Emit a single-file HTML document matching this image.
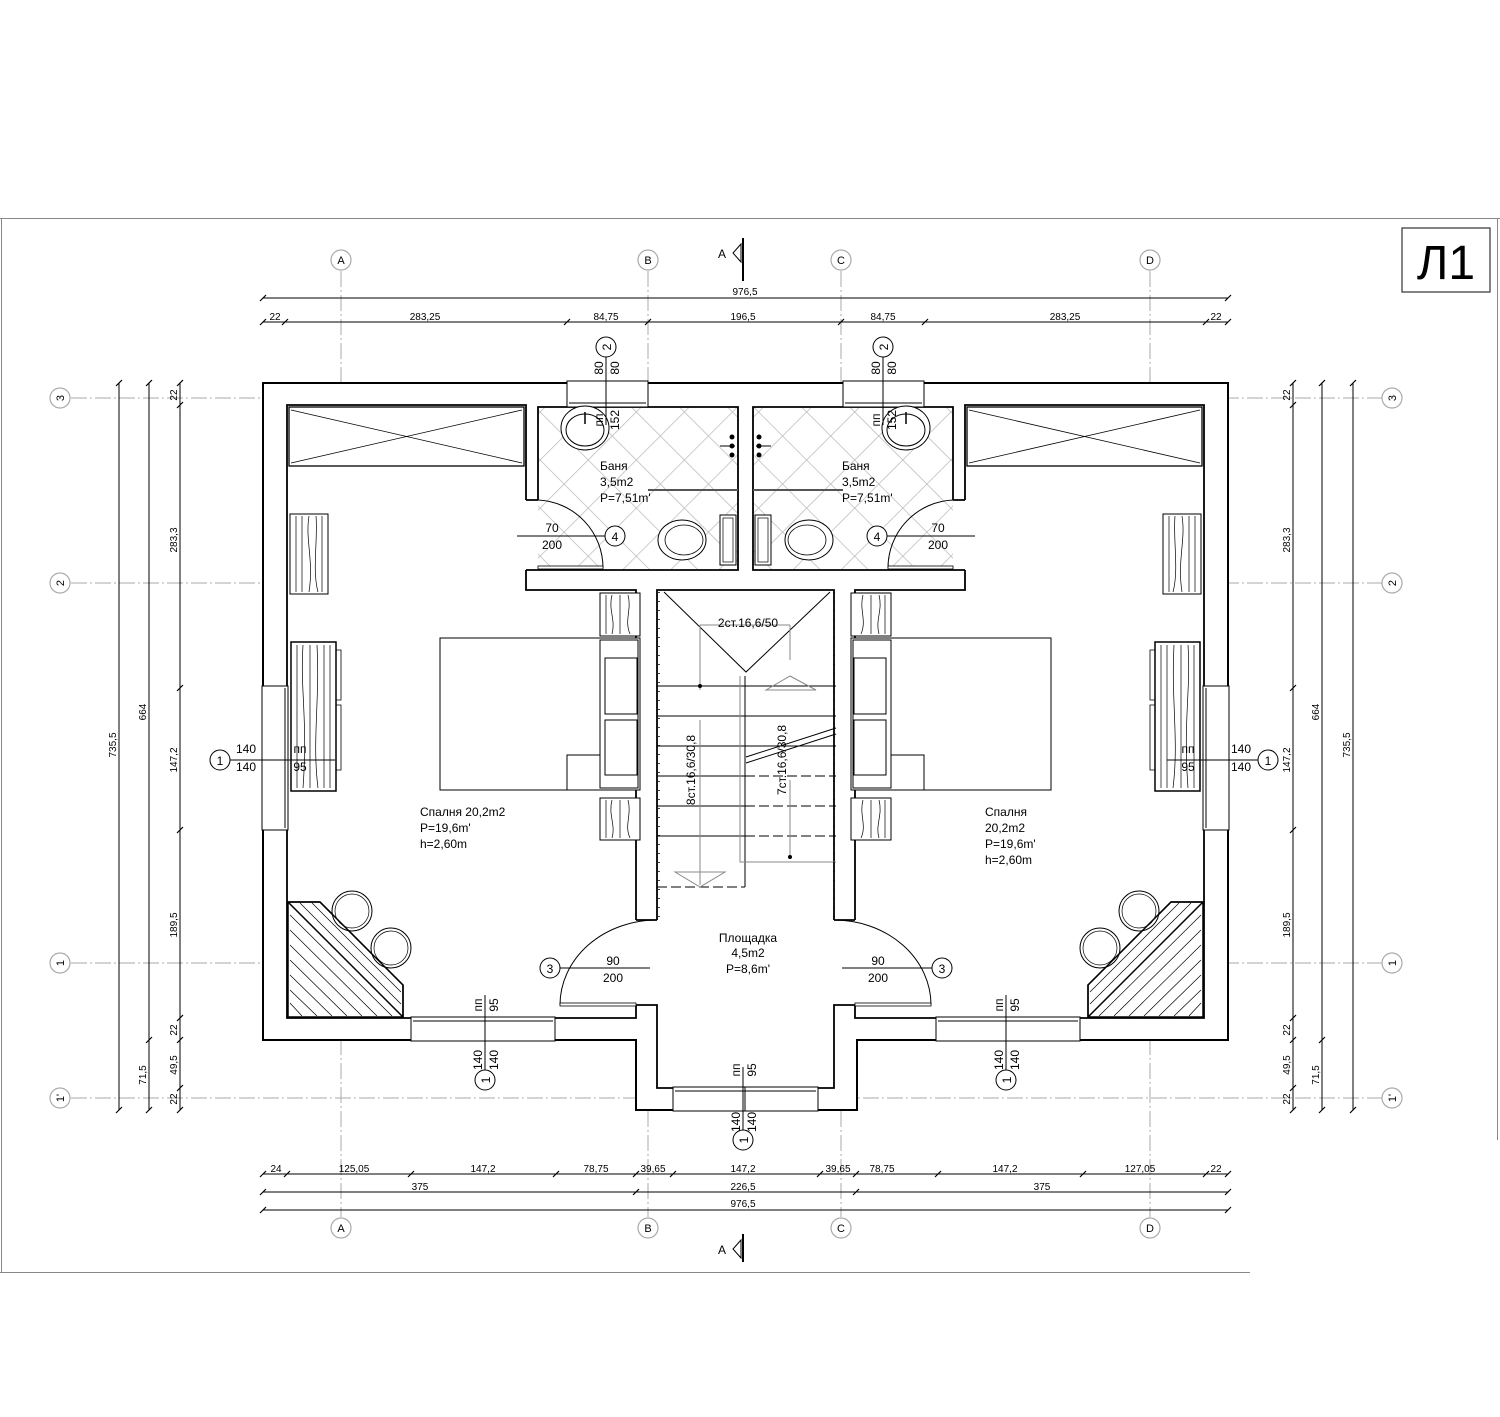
<!DOCTYPE html>
<html><head><meta charset="utf-8"><style>
html,body{margin:0;padding:0;background:#fff}
svg{display:block}
text{font-family:"Liberation Sans",sans-serif;fill:#000}
.d{font-size:10px}
.g{fill:#999;font-size:11px}
.t{font-size:12px}
</style></head><body>
<svg width="1500" height="1417" viewBox="0 0 1500 1417" xmlns="http://www.w3.org/2000/svg">
<defs>
<pattern id="tile" width="34" height="34" patternUnits="userSpaceOnUse" patternTransform="rotate(45 538 405)">
<rect width="34" height="34" fill="#fff"/>
<path d="M0 0H34M0 0V34" stroke="#bbb" stroke-width="1.5"/>
</pattern>
<g id="half">
 <rect x="538" y="407" width="200" height="163" fill="url(#tile)"/>
 <path d="M526,500 V405 H287 V1018 H636 V1005 H657 V1088 H745.5" fill="none" stroke="#000" stroke-width="1.8"/>
 <path d="M636,920 V590 H526 V570 M538,500 V407 H738 V570 H538 M526,500 H538 M526,570 H538 M657,920 V590 H745.5 M636,920 H657" fill="none" stroke="#000" stroke-width="1.8"/>
 <rect x="262" y="686" width="26" height="144" fill="#fff" stroke="#000"/>
 <line x1="285" y1="688" x2="285" y2="828" stroke="#000"/>
 <rect x="567" y="381" width="81" height="26" fill="#fff" stroke="#000"/>
 <line x1="569" y1="403" x2="646" y2="403" stroke="#000"/>
 <rect x="411" y="1017" width="144" height="24" fill="#fff" stroke="#000"/>
 <line x1="413" y1="1021" x2="553" y2="1021" stroke="#000"/>
 <rect x="673" y="1087" width="73" height="24" fill="#fff" stroke="#000"/>
 <line x1="675" y1="1091" x2="746" y2="1091" stroke="#000"/>
 <rect x="289" y="407" width="235" height="59" fill="none" stroke="#000" stroke-width="1.3"/>
 <path d="M291,410 L522,463 M291,463 L522,410" stroke="#000" stroke-width="0.8"/>
 <rect x="290" y="514" width="38" height="80" fill="#fff" stroke="#000"/>
 <path d="M296,516 V592 M302,516 V592 M309,516 C305,540 314,560 309,592 M316,516 C318,540 312,570 318,592 M322,516 V592" stroke="#000" stroke-width="0.7" fill="none"/>
 <rect x="291" y="642" width="45" height="149" fill="#fff" stroke="#000" stroke-width="1.5"/>
 <path d="M297,645 V788 M303,645 C300,690 308,720 303,788 M310,645 V788 M317,645 C320,700 312,740 318,788 M324,645 V788 M330,645 V788" stroke="#000" stroke-width="0.7" fill="none"/>
 <path d="M336,650 H341 V700 H336 M336,705 H341 V770 H336" fill="none" stroke="#000" stroke-width="0.8"/>
 <rect x="440" y="638" width="200" height="152" fill="#fff" stroke="#000"/>
 <rect x="600" y="640" width="38" height="148" fill="none" stroke="#000"/>
 <rect x="605" y="658" width="32" height="56" fill="none" stroke="#000"/>
 <rect x="605" y="720" width="32" height="55" fill="none" stroke="#000"/>
 <path d="M600,755 L567,755 L567,790" fill="none" stroke="#000"/>
 <rect x="600" y="593" width="40" height="43" fill="#fff" stroke="#000"/>
 <path d="M606,595 V634 M612,595 C608,610 616,620 612,634 M620,595 V634 M628,595 C632,610 624,620 630,634" stroke="#000" stroke-width="0.7" fill="none"/>
 <rect x="600" y="798" width="40" height="42" fill="#fff" stroke="#000"/>
 <path d="M606,800 V838 M612,800 C608,815 616,825 612,838 M620,800 V838 M628,800 C632,815 624,825 630,838" stroke="#000" stroke-width="0.7" fill="none"/>
 <polygon points="288,902 320,902 403,985 403,1017 288,1017" fill="#fff" stroke="#000" stroke-width="1.5"/>
 <g stroke="#000" stroke-width="0.7">
  <path d="M290,915 L392,1016 M290,930 L377,1016 M290,945 L362,1016 M290,960 L347,1016 M290,975 L332,1016 M290,990 L317,1016 M300,903 L401,1004 M312,903 L401,992 M290,1003 L302,1016"/>
 </g>
 <circle cx="352" cy="911" r="20" fill="#fff" stroke="#000"/>
 <circle cx="352" cy="911" r="17" fill="none" stroke="#000" stroke-width="0.7"/>
 <circle cx="391" cy="948" r="20" fill="#fff" stroke="#000"/>
 <circle cx="391" cy="948" r="17" fill="none" stroke="#000" stroke-width="0.7"/>
 <polygon points="288,902 320,902 403,985 403,1017" fill="none" stroke="#000" stroke-width="1.5"/>
 <ellipse cx="585" cy="428" rx="24" ry="22" fill="#fff" stroke="#000"/>
 <ellipse cx="585" cy="430" rx="19" ry="16" fill="none" stroke="#000"/>
 <line x1="585" y1="412" x2="585" y2="424" stroke="#000" stroke-width="1.5"/>
 <line x1="648" y1="490" x2="738" y2="490" stroke="#555" stroke-width="2"/>
 <circle cx="732" cy="437" r="2.5"/><circle cx="732" cy="446" r="2.5"/><circle cx="732" cy="455" r="2.5"/>
 <line x1="720" y1="446" x2="735" y2="446" stroke="#000"/>
 <ellipse cx="682" cy="540" rx="24" ry="20" fill="#fff" stroke="#000"/>
 <ellipse cx="684" cy="540" rx="19" ry="15" fill="none" stroke="#000" stroke-width="0.8"/>
 <rect x="720" y="515" width="16" height="50" fill="#fff" stroke="#000"/>
 <rect x="723" y="518" width="10" height="44" fill="none" stroke="#000" stroke-width="0.7"/>
 <path d="M603,568 A68,68 0 0 0 538,500" fill="none" stroke="#000"/>
 <rect x="538" y="566" width="65" height="3" fill="#fff" stroke="#000" stroke-width="0.8"/>
 <path d="M560,1005 A97,85 0 0 1 657,920" fill="none" stroke="#000"/>
 <rect x="560" y="1003" width="76" height="3" fill="#fff" stroke="#000" stroke-width="0.8"/>
</g>
</defs>

<path d="M0,218.5 H1500 M1.5,218 V1272 M0,1272.5 H1250 M1497.5,218 V1140" stroke="#888" stroke-width="1" fill="none"/>
<rect x="1402" y="228" width="88" height="64" fill="none" stroke="#333" stroke-width="1.2"/>
<text x="1446" y="279" font-size="48" text-anchor="middle">Л1</text>

<g stroke="#aaa" stroke-width="1" stroke-dasharray="16,3,2,3" fill="none">
<path d="M341,271 V1217 M648,271 V1217 M841,271 V1217 M1150,271 V1217"/>
<path d="M71,398 H1382 M71,583 H1382 M71,963 H1382 M71,1098 H1382"/>
</g>
<g fill="#fff" stroke="#aaa" stroke-width="1.2">
<circle cx="341" cy="260" r="10"/><circle cx="648" cy="260" r="10"/><circle cx="841" cy="260" r="10"/><circle cx="1150" cy="260" r="10"/>
<circle cx="341" cy="1228" r="10"/><circle cx="648" cy="1228" r="10"/><circle cx="841" cy="1228" r="10"/><circle cx="1150" cy="1228" r="10"/>
<circle cx="60" cy="398" r="10"/><circle cx="60" cy="583" r="10"/><circle cx="60" cy="963" r="10"/><circle cx="60" cy="1098" r="10"/>
<circle cx="1392" cy="398" r="10"/><circle cx="1392" cy="583" r="10"/><circle cx="1392" cy="963" r="10"/><circle cx="1392" cy="1098" r="10"/>
</g>
<g class="g" text-anchor="middle">
<text x="341" y="264">A</text><text x="648" y="264">B</text><text x="841" y="264">C</text><text x="1150" y="264">D</text>
<text x="341" y="1232">A</text><text x="648" y="1232">B</text><text x="841" y="1232">C</text><text x="1150" y="1232">D</text>
<text x="60" y="402" transform="rotate(-90 60 398)">3</text><text x="60" y="587" transform="rotate(-90 60 583)">2</text><text x="60" y="967" transform="rotate(-90 60 963)">1</text><text x="60" y="1102" transform="rotate(-90 60 1098)">1'</text>
<text x="1392" y="402" transform="rotate(-90 1392 398)">3</text><text x="1392" y="587" transform="rotate(-90 1392 583)">2</text><text x="1392" y="967" transform="rotate(-90 1392 963)">1</text><text x="1392" y="1102" transform="rotate(-90 1392 1098)">1'</text>
</g>

<g>
<text x="718" y="258" class="t">A</text>
<path d="M743,238 V281" stroke="#000" stroke-width="2"/>
<path d="M741,244 L733,253 L741,262 Z" fill="none" stroke="#000"/>
<text x="718" y="1254" class="t">A</text>
<path d="M743,1234 V1262" stroke="#000" stroke-width="2"/>
<path d="M741,1240 L733,1249 L741,1258 Z" fill="none" stroke="#000"/>
</g>

<g stroke="#000" stroke-width="1" fill="none">
<path d="M263,298 H1228 M263,322 H1228 M263,1174 H1228 M263,1192 H1228 M263,1210 H1228"/>
<path d="M119,383 V1110 M149,383 V1110 M180,383 V1110 M1322,383 V1110 M1353,383 V1110 M1293,383 V1110"/>
<g stroke-width="1.2">
<path d="M260,301 l6,-6 M1225,301 l6,-6"/>
<path d="M260,325 l6,-6 M282,325 l6,-6 M564,325 l6,-6 M645,325 l6,-6 M838,325 l6,-6 M922,325 l6,-6 M1203,325 l6,-6 M1225,325 l6,-6"/>
<path d="M260,1177 l6,-6 M284,1177 l6,-6 M408,1177 l6,-6 M553,1177 l6,-6 M633,1177 l6,-6 M670,1177 l6,-6 M817,1177 l6,-6 M853,1177 l6,-6 M935,1177 l6,-6 M1080,1177 l6,-6 M1203,1177 l6,-6 M1225,1177 l6,-6"/>
<path d="M260,1195 l6,-6 M633,1195 l6,-6 M853,1195 l6,-6 M1225,1195 l6,-6 M260,1213 l6,-6 M1225,1213 l6,-6"/>
<path d="M116,386 l6,-6 M116,1113 l6,-6 M146,386 l6,-6 M146,1043 l6,-6 M146,1113 l6,-6 M177,386 l6,-6 M177,408 l6,-6 M177,691 l6,-6 M177,833 l6,-6 M177,1021 l6,-6 M177,1043 l6,-6 M177,1091 l6,-6 M177,1113 l6,-6"/>
<path d="M1290,386 l6,-6 M1290,408 l6,-6 M1290,691 l6,-6 M1290,833 l6,-6 M1290,1021 l6,-6 M1290,1043 l6,-6 M1290,1091 l6,-6 M1290,1113 l6,-6 M1319,386 l6,-6 M1319,1043 l6,-6 M1319,1113 l6,-6 M1350,386 l6,-6 M1350,1113 l6,-6"/>
</g>
</g>
<g class="d" text-anchor="middle">
<text x="745" y="295">976,5</text>
<text x="275" y="320">22</text><text x="425" y="320">283,25</text><text x="606" y="320">84,75</text><text x="743" y="320">196,5</text><text x="883" y="320">84,75</text><text x="1065" y="320">283,25</text><text x="1216" y="320">22</text>
<text x="276" y="1172">24</text><text x="354" y="1172">125,05</text><text x="483" y="1172">147,2</text><text x="596" y="1172">78,75</text><text x="653" y="1172">39,65</text><text x="743" y="1172">147,2</text><text x="838" y="1172">39,65</text><text x="882" y="1172">78,75</text><text x="1005" y="1172">147,2</text><text x="1140" y="1172">127,05</text><text x="1216" y="1172">22</text>
<text x="420" y="1190">375</text><text x="743" y="1190">226,5</text><text x="1042" y="1190">375</text>
<text x="743" y="1207">976,5</text>
<g transform="rotate(-90)">
<text x="-745" y="116">735,5</text><text x="-712" y="146">664</text><text x="-1075" y="146">71,5</text>
<text x="-395" y="177">22</text><text x="-540" y="177">283,3</text><text x="-760" y="177">147,2</text><text x="-925" y="177">189,5</text><text x="-1030" y="177">22</text><text x="-1065" y="177">49,5</text><text x="-1099" y="177">22</text>
<text x="-395" y="1290">22</text><text x="-540" y="1290">283,3</text><text x="-760" y="1290">147,2</text><text x="-925" y="1290">189,5</text><text x="-1030" y="1290">22</text><text x="-1065" y="1290">49,5</text><text x="-1099" y="1290">22</text>
<text x="-712" y="1319">664</text><text x="-1075" y="1319">71,5</text><text x="-745" y="1350">735,5</text>
</g>
</g>

<path d="M263,383 H1228 V1040 H857 V1110 H636 V1040 H263 Z" fill="#fff" stroke="#000" stroke-width="2"/>
<use href="#half"/>
<use href="#half" transform="translate(1491,0) scale(-1,1)"/>

<g fill="none" stroke="#000" stroke-width="1">
<path d="M664,592 L746,672 L830,592"/>
<path d="M657,686 H836 M657,716 H836 M657,746 H836 M657,776 H745 M657,806 H745 M657,836 H745"/>
<path d="M745,776 H836 M745,806 H836 M745,836 H836 M657,887 H745" stroke-dasharray="10,4"/>
<path d="M745,676 V887"/>
<path d="M746,757 L836,728 M746,763 L836,734"/>
<path d="M700,625 V690 M700,720 V885 M790,625 V660 M790,780 V858 M700,625 H790" stroke="#888"/>
<path d="M740,676 V862 H836" stroke="#888"/>
<path d="M766,690 L790,676 L816,690 Z" stroke="#888"/>
<path d="M675,872 L700,887 L725,872 Z" stroke="#888"/>
<path d="M659,592 V920 M834,592 V920" stroke-dasharray="1,8" stroke-width="1.5"/>
</g>
<circle cx="790" cy="857" r="2"/>
<circle cx="700" cy="686" r="2"/>
<g class="t" text-anchor="middle">
<text x="748" y="627">2ст.16,6/50</text>
<text transform="translate(695,770) rotate(-90)">8ст.16,6/30,8</text>
<text transform="translate(786,760) rotate(-90)">7ст.16,6/30,8</text>
</g>

<g stroke="#000" stroke-width="1" fill="none">
<path d="M230,760 H335 M1167,760 H1258 M485,995 V1070 M1006,995 V1070 M743,1067 V1130 M606,357 V425 M883,357 V425 M517,536 H605 M887,536 H975 M560,968 H650 M842,968 H932"/>
</g>
<g fill="#fff" stroke="#000" stroke-width="1">
<circle cx="220" cy="760" r="10"/><circle cx="1268" cy="760" r="10"/><circle cx="485" cy="1080" r="10"/><circle cx="1006" cy="1080" r="10"/><circle cx="743" cy="1140" r="10"/>
<circle cx="606" cy="347" r="10"/><circle cx="883" cy="347" r="10"/><circle cx="615" cy="536" r="10"/><circle cx="877" cy="536" r="10"/><circle cx="550" cy="968" r="10"/><circle cx="942" cy="968" r="10"/>
</g>
<g class="t" text-anchor="middle">
<text x="220" y="765">1</text><text x="1268" y="765">1</text><text x="615" y="541">4</text><text x="877" y="541">4</text><text x="550" y="973">3</text><text x="942" y="973">3</text>
<text transform="translate(490,1080) rotate(-90)">1</text><text transform="translate(1011,1080) rotate(-90)">1</text><text transform="translate(748,1140) rotate(-90)">1</text>
<text transform="translate(611,347) rotate(-90)">2</text><text transform="translate(888,347) rotate(-90)">2</text>
<text x="246" y="753">140</text><text x="246" y="771">140</text><text x="300" y="753">пп</text><text x="300" y="771">95</text>
<text x="1241" y="753">140</text><text x="1241" y="771">140</text><text x="1188" y="753">пп</text><text x="1188" y="771">95</text>
<text x="552" y="532">70</text><text x="552" y="549">200</text><text x="938" y="532">70</text><text x="938" y="549">200</text>
<text x="613" y="965">90</text><text x="613" y="982">200</text><text x="878" y="965">90</text><text x="878" y="982">200</text>
<text x="748" y="942">Площадка</text><text x="748" y="957">4,5m2</text><text x="748" y="973">P=8,6m'</text>
</g>
<g class="t" text-anchor="middle">
<g transform="rotate(-90)">
<text x="-1060" y="482">140</text><text x="-1060" y="498">140</text><text x="-1005" y="482">пп</text><text x="-1005" y="498">95</text>
<text x="-1060" y="1003">140</text><text x="-1060" y="1019">140</text><text x="-1005" y="1003">пп</text><text x="-1005" y="1019">95</text>
<text x="-1122" y="740">140</text><text x="-1122" y="756">140</text><text x="-1070" y="740">пп</text><text x="-1070" y="756">95</text>
<text x="-368" y="603">80</text><text x="-368" y="619">80</text><text x="-368" y="880">80</text><text x="-368" y="896">80</text>
<text x="-420" y="603">пп</text><text x="-420" y="619">152</text><text x="-420" y="880">пп</text><text x="-420" y="896">152</text>
</g>
</g>
<g class="t">
<text x="600" y="470">Баня</text><text x="600" y="486">3,5m2</text><text x="600" y="502">P=7,51m'</text>
<text x="842" y="470">Баня</text><text x="842" y="486">3,5m2</text><text x="842" y="502">P=7,51m'</text>
<text x="420" y="816">Спалня 20,2m2</text><text x="420" y="832">P=19,6m'</text><text x="420" y="848">h=2,60m</text>
<text x="985" y="816">Спалня</text><text x="985" y="832">20,2m2</text><text x="985" y="848">P=19,6m'</text><text x="985" y="864">h=2,60m</text>
</g>
</svg>
</body></html>
